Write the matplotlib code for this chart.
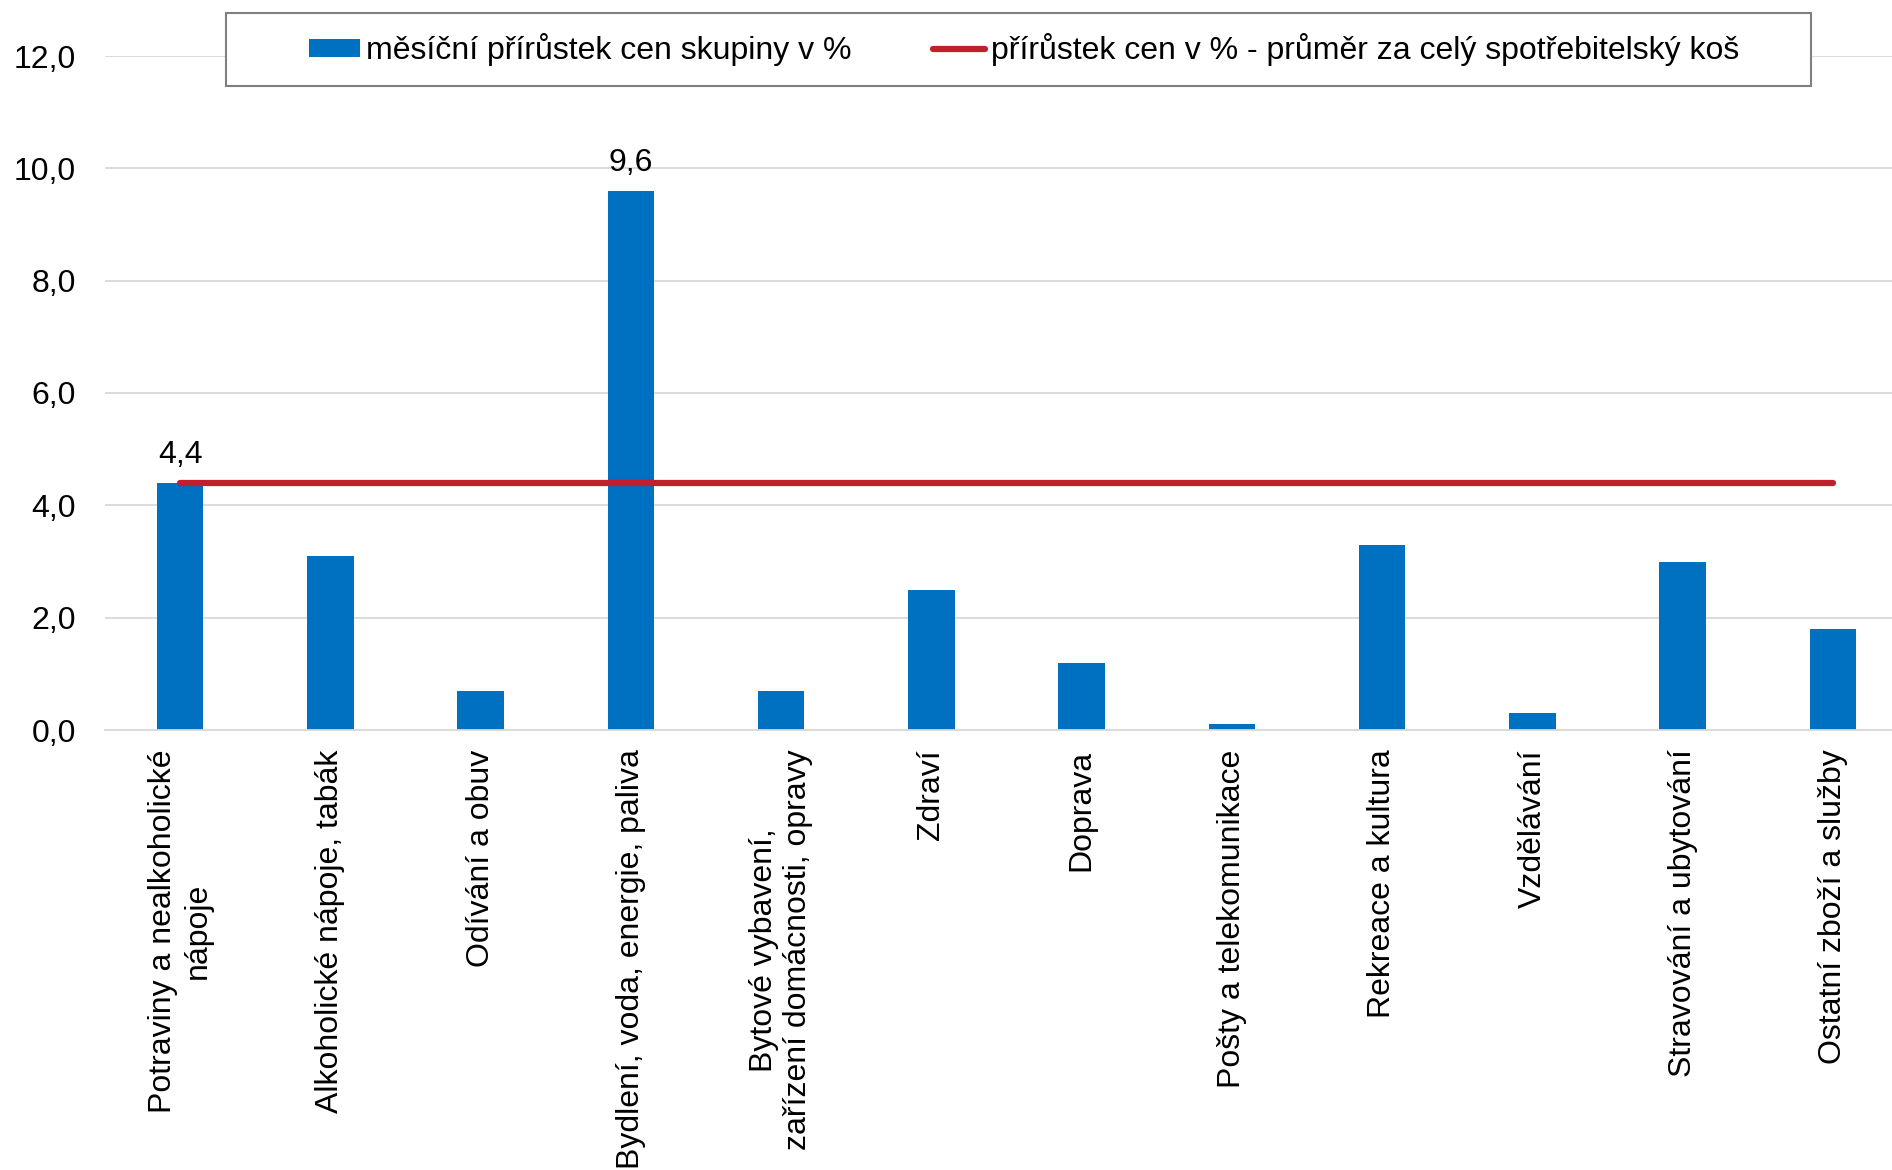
"""Monthly price growth by CPI group vs. whole-basket average."""
import matplotlib
matplotlib.use("Agg")
import matplotlib.pyplot as plt
from matplotlib.patches import Rectangle
from matplotlib.ticker import FuncFormatter

categories = [
    "Potraviny a nealkoholické\nnápoje",
    "Alkoholické nápoje, tabák",
    "Odívání a obuv",
    "Bydlení, voda, energie, paliva",
    "Bytové vybavení,\nzařízení domácnosti, opravy",
    "Zdraví",
    "Doprava",
    "Pošty a telekomunikace",
    "Rekreace a kultura",
    "Vzdělávání",
    "Stravování a ubytování",
    "Ostatní zboží a služby",
]
group_growth = [4.4, 3.1, 0.7, 9.6, 0.7, 2.5, 1.2, 0.1, 3.3, 0.3, 3.0, 1.8]
basket_avg = [4.4] * len(categories)
labelled = [0, 3]  # bars that carry a value label

BAR_COLOR = "#0070C0"
LINE_COLOR = "#C0202A"
GRID_COLOR = "#D9D9D9"
FS = 23

plt.rcParams["font.family"] = ["Liberation Sans", "DejaVu Sans"]

W, H = 1892, 1170
fig = plt.figure(figsize=(W / 100, H / 100), dpi=100)
ax = fig.add_axes([105 / W, 1 - 730 / H, 1803 / W, (730 - 56) / H])

x = list(range(len(categories)))
bars = ax.bar(x, group_growth, width=0.31, color=BAR_COLOR, zorder=2)
line, = ax.plot(x, basket_avg, color=LINE_COLOR, linewidth=4.5,
                solid_capstyle="round", zorder=3)

for i in labelled:
    ax.annotate(f"{group_growth[i]:.1f}".replace(".", ","), (x[i], group_growth[i]),
                xytext=(0, 20), textcoords="offset points",
                ha="center", va="center", fontsize=FS)

ax.set_xlim(-0.5, 11.5)
ax.set_ylim(0, 12)
ax.set_yticks(range(0, 13, 2))
ax.yaxis.set_major_formatter(FuncFormatter(lambda v, p: f"{v:.1f}".replace(".", ",")))
ax.set_xticks(x)
ax.set_xticklabels(categories, rotation=90, ha="center", va="top",
                   multialignment="center")
ax.tick_params(axis="y", length=0, pad=21, labelsize=FS)
ax.tick_params(axis="x", length=0, pad=14, labelsize=FS)
ax.grid(axis="y", color=GRID_COLOR, linewidth=1.3, zorder=0)
ax.set_axisbelow(True)
for side in ("left", "right", "top"):
    ax.spines[side].set_visible(False)
ax.spines["bottom"].set_color(GRID_COLOR)
ax.spines["bottom"].set_linewidth(1.3)

# legend frame drawn separately: the original box has more room left/right than top/bottom
frame = Rectangle((226 / W, 1 - 86 / H), (1811 - 226) / W, 73 / H,
                  transform=fig.transFigure, facecolor="white",
                  edgecolor="#7F7F7F", linewidth=1.5, zorder=4)
fig.add_artist(frame)
leg = fig.legend([bars, line],
                 ["měsíční přírůstek cen skupiny v %",
                  "přírůstek cen v % - průměr za celý spotřebitelský koš"],
                 loc="center left", bbox_to_anchor=(309 / W, 1 - 49.5 / H),
                 ncol=2, frameon=False, fontsize=FS, borderpad=0, borderaxespad=0,
                 handlelength=1.6, handleheight=0.5, handletextpad=0.2,
                 columnspacing=2.55)
leg.set_zorder(5)

fig.savefig("out.png", dpi=100)
